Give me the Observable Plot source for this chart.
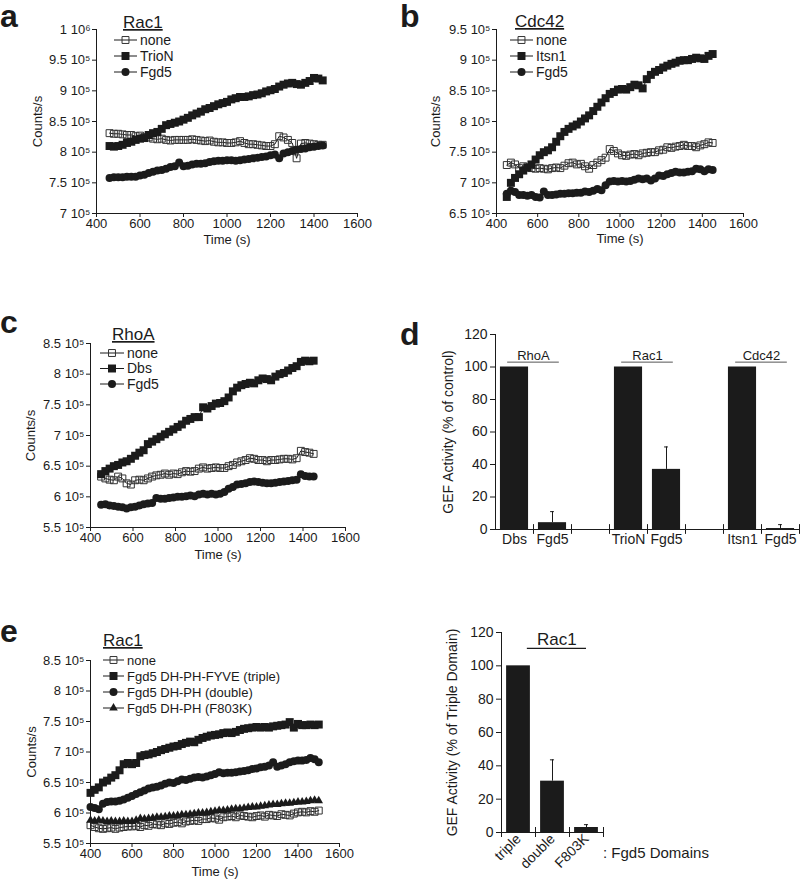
<!DOCTYPE html>
<html>
<head>
<meta charset="utf-8">
<script src="https://cdn.jsdelivr.net/npm/d3@7"></script>
<script src="https://cdn.jsdelivr.net/npm/@observablehq/plot@0.6"></script>
<style>
  body { margin: 0; background: #fff; }
  #fig { position: relative; width: 800px; height: 879px; overflow: hidden; background: #fff; }
  .cell { position: absolute; }
</style>
</head>
<body>
<div id="fig"></div>
<script>
// ---------------- DATA (counts in units of 10^5) ----------------
const timeA = [460,480,500,520,540,560,580,600,620,640,660,680,700,720,740,760,780,800,820,840,860,880,900,920,940,960,980,1000,1020,1040,1060,1080,1100,1120,1140,1160,1180,1200,1220,1240,1260,1280,1300,1320,1340,1360,1380,1400,1420,1440];
const aNone  = [8.31,8.3,8.3,8.29,8.28,8.28,8.26,8.27,8.25,8.24,8.22,8.21,8.22,8.2,8.19,8.2,8.2,8.2,8.2,8.21,8.2,8.19,8.18,8.19,8.17,8.16,8.16,8.15,8.15,8.16,8.18,8.15,8.13,8.13,8.12,8.11,8.1,8.1,8.13,8.26,8.24,8.2,8.15,7.9,8.14,8.15,8.14,8.13,8.12,8.12];
const aTrioN = [8.1,8.09,8.1,8.12,8.15,8.17,8.2,8.22,8.23,8.28,8.31,8.33,8.38,8.44,8.46,8.48,8.5,8.53,8.56,8.6,8.63,8.66,8.7,8.72,8.75,8.78,8.8,8.82,8.86,8.88,8.9,8.9,8.91,8.93,8.94,8.96,8.99,9.01,9.03,9.07,9.1,9.12,9.13,9.11,9.1,9.13,9.16,9.21,9.2,9.17];
const aFgd5  = [7.58,7.59,7.59,7.59,7.6,7.6,7.6,7.62,7.63,7.66,7.68,7.7,7.71,7.73,7.76,7.77,7.83,7.77,7.78,7.8,7.81,7.81,7.82,7.84,7.85,7.86,7.86,7.87,7.87,7.86,7.87,7.88,7.89,7.9,7.91,7.92,7.93,7.95,7.96,7.9,7.98,8.0,8.02,8.04,8.05,8.06,8.08,8.09,8.1,8.11];

const timeBC = [450,470,490,510,530,550,570,590,610,630,650,670,690,710,730,750,770,790,810,830,850,870,890,910,930,950,970,990,1010,1030,1050,1070,1090,1110,1130,1150,1170,1190,1210,1230,1250,1270,1290,1310,1330,1350,1370,1390,1410,1430,1450];
const bNone  = [7.29,7.33,7.3,7.24,7.27,7.25,7.24,7.23,7.24,7.23,7.22,7.24,7.25,7.24,7.28,7.32,7.33,7.3,7.31,7.27,7.23,7.29,7.33,7.37,7.41,7.55,7.52,7.48,7.45,7.44,7.46,7.47,7.45,7.48,7.49,7.5,7.5,7.53,7.54,7.58,7.57,7.59,7.6,7.62,7.6,7.6,7.58,7.61,7.63,7.66,7.65];
const bItsn1 = [6.77,7.0,7.08,7.14,7.2,7.25,7.3,7.38,7.45,7.5,7.53,7.58,7.67,7.76,7.83,7.88,7.92,7.95,8.0,8.05,8.1,8.17,8.24,8.31,8.38,8.45,8.48,8.52,8.53,8.52,8.56,8.6,8.59,8.54,8.69,8.76,8.81,8.84,8.88,8.91,8.94,8.96,8.99,9.0,9.0,9.02,9.04,9.03,9.02,9.07,9.1];
const bFgd5  = [6.82,6.87,6.85,6.8,6.8,6.79,6.8,6.77,6.76,6.86,6.8,6.8,6.81,6.82,6.82,6.83,6.83,6.84,6.84,6.86,6.85,6.87,6.9,6.88,6.96,7.02,7.03,7.02,7.03,7.02,7.03,7.05,7.07,7.06,7.07,7.04,7.07,7.12,7.11,7.14,7.16,7.18,7.17,7.17,7.18,7.19,7.23,7.22,7.19,7.22,7.21];

const cNone = [6.33,6.3,6.28,6.27,6.33,6.3,6.22,6.2,6.27,6.28,6.27,6.3,6.33,6.35,6.36,6.38,6.36,6.38,6.37,6.4,6.42,6.41,6.42,6.46,6.48,6.46,6.47,6.48,6.47,6.47,6.5,6.52,6.56,6.58,6.6,6.63,6.62,6.6,6.6,6.58,6.6,6.6,6.61,6.62,6.62,6.61,6.63,6.75,6.73,6.72,6.7];
const cDbs  = [6.37,6.42,6.46,6.5,6.52,6.56,6.58,6.62,6.67,6.72,6.76,6.86,6.9,6.94,6.98,7.02,7.06,7.1,7.14,7.18,7.24,7.27,7.3,7.3,7.46,7.44,7.48,7.52,7.53,7.56,7.62,7.72,7.78,7.82,7.84,7.86,7.85,7.9,7.93,7.92,7.9,7.96,8.0,8.02,8.06,8.1,8.13,8.2,8.22,8.21,8.22];
const cFgd5 = [5.87,5.88,5.86,5.85,5.84,5.83,5.81,5.83,5.84,5.86,5.88,5.89,5.9,5.98,5.97,5.97,5.98,5.99,6.0,6.0,6.01,6.02,6.01,6.04,6.05,6.04,6.05,6.04,6.05,6.08,6.13,6.16,6.2,6.21,6.22,6.24,6.25,6.24,6.23,6.22,6.22,6.23,6.24,6.25,6.26,6.27,6.28,6.37,6.34,6.33,6.33];

const timeE = [400,420,440,460,480,500,520,540,560,580,600,620,640,660,680,700,720,740,760,780,800,820,840,860,880,900,920,940,960,980,1000,1020,1040,1060,1080,1100,1120,1140,1160,1180,1200,1220,1240,1260,1280,1300,1320,1340,1360,1380,1400,1420,1440,1460,1480,1500];
const eNone   = [5.8,5.77,5.75,5.74,5.75,5.76,5.74,5.76,5.77,5.78,5.78,5.79,5.77,5.8,5.79,5.82,5.81,5.8,5.83,5.82,5.84,5.85,5.83,5.86,5.87,5.88,5.87,5.9,5.9,5.92,5.91,5.89,5.93,5.94,5.95,5.93,5.96,5.95,5.94,5.93,5.95,5.96,5.94,5.97,5.96,5.95,5.98,5.97,5.96,5.99,6.01,6.02,6.01,6.03,6.02,6.04];
const eTriple = [6.33,6.38,6.42,6.5,6.53,6.58,6.62,6.7,6.8,6.82,6.8,6.82,6.93,6.95,6.96,6.98,7.0,7.03,7.05,7.07,7.09,7.1,7.13,7.15,7.17,7.16,7.2,7.23,7.25,7.27,7.28,7.29,7.31,7.32,7.31,7.33,7.36,7.38,7.39,7.4,7.41,7.4,7.41,7.4,7.42,7.43,7.44,7.45,7.49,7.4,7.46,7.44,7.44,7.45,7.44,7.45];
const eDouble = [6.1,6.08,6.06,6.15,6.18,6.19,6.19,6.2,6.22,6.25,6.28,6.31,6.34,6.37,6.4,6.42,6.43,6.45,6.48,6.5,6.49,6.52,6.55,6.54,6.56,6.58,6.59,6.58,6.6,6.62,6.64,6.67,6.65,6.66,6.66,6.67,6.68,6.69,6.7,6.72,6.73,6.75,6.76,6.78,6.83,6.76,6.78,6.8,6.83,6.85,6.86,6.86,6.87,6.9,6.88,6.83];
const eF803K  = [5.88,5.87,5.88,5.87,5.86,5.87,5.86,5.86,5.87,5.86,5.86,5.88,5.91,5.9,5.91,5.92,5.93,5.93,5.94,5.95,5.95,5.96,5.97,5.97,5.98,5.99,6.0,6.0,6.01,6.02,6.03,6.04,6.04,6.05,6.06,6.07,6.07,6.08,6.09,6.1,6.1,6.11,6.12,6.13,6.14,6.14,6.15,6.16,6.16,6.17,6.18,6.18,6.19,6.2,6.21,6.2];

const timeTicks = [400,600,800,1000,1200,1400,1600];
const yTicksA = [7,7.5,8,8.5,9,9.5,10];
const yTicksB = [6.5,7,7.5,8,8.5,9,9.5];
const yTicksCE = [5.5,6,6.5,7,7.5,8,8.5];

// panel d
const dLabels = ["Dbs","Fgd5","","TrioN","Fgd5","","Itsn1","Fgd5"];
const dValues = [100,4.2,null,100,37,null,100,0.6];
const dErrors = [0,6.8,null,0,13.8,null,0,2.4];
const dGroups = ["RhoA","Rac1","Cdc42"];
const pctTicks = [0,20,40,60,80,100,120];

// panel e (bars)
const eBarLabels = ["triple","double","F803K"];
const eBarValues = [100,30.8,3.0];
const eBarErrors = [0,12.8,1.7];

// ---------------- RENDERING ----------------
const FONT = '"Liberation Sans", Arial, Helvetica, sans-serif';
const INK = "#1b1b1b";
const fig = document.getElementById("fig");

function place(node, left, top) {
  const div = document.createElement("div");
  div.className = "cell";
  div.style.left = left + "px";
  div.style.top = top + "px";
  div.appendChild(node);
  fig.appendChild(div);
}

const sci = v => v >= 10 ? `${v / 10} 10⁶` : `${v} 10⁵`;
const plain = v => `${v}`;

const SYM = {
  open:   {symbol: "square",   r: 3.9, fill: "none", stroke: "#333"},
  square: {symbol: "square",   r: 4.5, fill: INK,    stroke: "none"},
  circle: {symbol: "circle",   r: 4.0, fill: INK,    stroke: "none"},
  tri:    {symbol: "triangle", r: 3.2, fill: INK,    stroke: "none"}
};

function linePanel(o) {
  const marks = [
    Plot.ruleX([o.xDomain[0]], {stroke: INK}),
    Plot.ruleY([o.yDomain[0]], {stroke: INK})
  ];
  for (const s of o.series) {
    const data = s.time.map((t, i) => ({t, v: s.values[i]}));
    const st = SYM[s.sym];
    marks.push(Plot.line(data, {x: "t", y: "v", stroke: INK, strokeWidth: 1}));
    marks.push(Plot.dot(data, {x: "t", y: "v", symbol: st.symbol, r: st.r, fill: st.fill, stroke: st.stroke, strokeWidth: 1}));
  }
  return Plot.plot({
    width: o.width, height: o.height,
    marginLeft: o.ml, marginRight: o.mr, marginTop: o.mt, marginBottom: o.mb,
    style: {fontFamily: FONT, fontSize: "13px", color: INK, background: "transparent", overflow: "visible"},
    x: {domain: o.xDomain, ticks: timeTicks, tickFormat: plain, tickSize: 4, tickPadding: 1,
        label: "Time (s)", labelAnchor: "center", labelOffset: o.xlo, labelArrow: "none"},
    y: {domain: o.yDomain, ticks: o.yTicks, tickFormat: sci, tickSize: 4, tickPadding: 2,
        label: "Counts/s", labelAnchor: "center", labelOffset: o.ylo, labelArrow: "none"},
    marks
  });
}

place(linePanel({width: 370, height: 250, ml: 96, mr: 13, mt: 29, mb: 37, xlo: 30, ylo: 64,
  xDomain: [400, 1600], yDomain: [7, 10], yTicks: yTicksA,
  series: [
    {time: timeA, values: aNone, sym: "open"},
    {time: timeA, values: aTrioN, sym: "square"},
    {time: timeA, values: aFgd5, sym: "circle"}
  ]}), 0, 0);

place(linePanel({width: 360, height: 250, ml: 96, mr: 17, mt: 29, mb: 37, xlo: 29, ylo: 66,
  xDomain: [400, 1600], yDomain: [6.5, 9.5], yTicks: yTicksB,
  series: [
    {time: timeBC, values: bNone, sym: "open"},
    {time: timeBC, values: bItsn1, sym: "square"},
    {time: timeBC, values: bFgd5, sym: "circle"}
  ]}), 400, 0);

place(linePanel({width: 360, height: 270, ml: 90, mr: 15, mt: 43, mb: 43, xlo: 31, ylo: 65,
  xDomain: [400, 1600], yDomain: [5.5, 8.5], yTicks: yTicksCE,
  series: [
    {time: timeBC, values: cNone, sym: "open"},
    {time: timeBC, values: cDbs, sym: "square"},
    {time: timeBC, values: cFgd5, sym: "circle"}
  ]}), 0, 300);

place(linePanel({width: 360, height: 299, ml: 90, mr: 21, mt: 80, mb: 36, xlo: 32, ylo: 64,
  xDomain: [400, 1600], yDomain: [5.5, 8.5], yTicks: yTicksCE,
  series: [
    {time: timeE, values: eNone, sym: "open"},
    {time: timeE, values: eF803K, sym: "tri"},
    {time: timeE, values: eDouble, sym: "circle"},
    {time: timeE, values: eTriple, sym: "square"}
  ]}), 0, 580);

// ---- panel d bars ----
const dData = dLabels.map((label, i) => ({i, label, v: dValues[i], e: dErrors[i]})).filter(d => d.v != null);
const dErr = dData.filter(d => d.e > 0);
const dBounds = dLabels.map((_, i) => i + 1);
const dGroupData = dGroups.map((name, k) => ({name, c: 3 * k + 1}));
place(Plot.plot({
  width: 400, height: 260, marginLeft: 95, marginRight: 1, marginTop: 34, marginBottom: 31,
  style: {fontFamily: FONT, fontSize: "14px", color: INK, background: "transparent", overflow: "visible"},
  x: {domain: [0, dLabels.length], ticks: dLabels.map((_, i) => i + 0.5), tickFormat: d => dLabels[Math.floor(d)],
      tickSize: 0, tickPadding: 5, label: null},
  y: {domain: [0, 120], ticks: pctTicks, tickFormat: plain, tickSize: 5, tickPadding: 3,
      label: "GEF Activity (% of control)", labelAnchor: "center", labelOffset: 52, labelArrow: "none"},
  marks: [
    Plot.rect(dData, {x1: d => d.i + 0.13, x2: d => d.i + 0.87, y1: 0, y2: "v", fill: INK}),
    Plot.ruleX(dErr, {x: d => d.i + 0.5, y1: "v", y2: d => d.v + d.e, stroke: INK}),
    Plot.ruleY(dErr, {y: d => d.v + d.e, x1: d => d.i + 0.45, x2: d => d.i + 0.55, stroke: INK}),
    Plot.ruleY([0], {stroke: INK}),
    Plot.ruleX([0], {stroke: INK}),
    Plot.ruleX(dBounds, {y1: -3, y2: 3, stroke: INK}),
    Plot.ruleY(dGroupData, {y: 103, x1: d => d.c - 0.68, x2: d => d.c + 0.68, stroke: "#555"}),
    Plot.text(dGroupData, {x: "c", y: 103, text: "name", dy: -2, lineAnchor: "bottom", fontSize: 13, fill: INK})
  ]
}), 400, 300);

// ---- panel e bars ----
const ebData = eBarLabels.map((label, i) => ({i, label, v: eBarValues[i], e: eBarErrors[i]}));
const ebErr = ebData.filter(d => d.e > 0);
place(Plot.plot({
  width: 200, height: 299, marginLeft: 81, marginRight: 17, marginTop: 52, marginBottom: 47,
  style: {fontFamily: FONT, fontSize: "14px", color: INK, background: "transparent", overflow: "visible"},
  x: {domain: [0, eBarLabels.length], ticks: eBarLabels.map((_, i) => i + 0.5), tickFormat: d => eBarLabels[Math.floor(d)],
      tickSize: 0, tickPadding: 4, tickRotate: -45, label: null},
  y: {domain: [0, 120], ticks: pctTicks, tickFormat: plain, tickSize: 5, tickPadding: 3,
      label: "GEF Activity (% of Triple Domain)", labelAnchor: "center", labelOffset: 54, labelArrow: "none"},
  marks: [
    Plot.rect(ebData, {x1: d => d.i + 0.15, x2: d => d.i + 0.85, y1: 0, y2: "v", fill: INK}),
    Plot.ruleX(ebErr, {x: d => d.i + 0.5, y1: "v", y2: d => d.v + d.e, stroke: INK}),
    Plot.ruleY(ebErr, {y: d => d.v + d.e, x1: d => d.i + 0.44, x2: d => d.i + 0.56, stroke: INK}),
    Plot.ruleY([0], {stroke: INK}),
    Plot.ruleX([0], {stroke: INK}),
    Plot.ruleX(d3.range(0, eBarLabels.length + 1), {y1: -3, y2: 3, stroke: INK}),
    Plot.ruleY(["Rac1"], {y: 110.5, x1: 0.76, x2: 2.5, stroke: INK, strokeWidth: 1.3}),
    Plot.text(["Rac1"], {x: 1.63, y: 110.5, text: d => d, dy: -3, lineAnchor: "bottom", fontSize: 17, fill: INK})
  ]
}), 420, 580);

// ---- overlay: panel letters, legends, caption ----
const svg = d3.select(fig).append("svg")
  .attr("width", 800).attr("height", 879)
  .style("position", "absolute").style("left", 0).style("top", 0)
  .style("pointer-events", "none")
  .attr("font-family", FONT).attr("fill", INK);

[["a", 0, 27], ["b", 400, 27], ["c", 0, 333], ["d", 400, 345], ["e", 0, 642]].forEach(([t, x, y]) =>
  svg.append("text").attr("x", x).attr("y", y).attr("font-size", 32).attr("font-weight", "bold").text(t));

const symType = {square: d3.symbolSquare, circle: d3.symbolCircle, triangle: d3.symbolTriangle};
function legend(o) {
  const g = svg.append("g");
  g.append("text").attr("x", o.tx).attr("y", o.ty).attr("font-size", 17)
    .attr("text-decoration", "underline").text(o.title);
  o.items.forEach((it, k) => {
    const cy = o.y0 + k * o.dy;
    const st = SYM[it.sym];
    g.append("line").attr("x1", o.x0).attr("x2", o.x1).attr("y1", cy).attr("y2", cy)
      .attr("stroke", INK).attr("stroke-width", 1);
    g.append("path").attr("transform", `translate(${(o.x0 + o.x1) / 2},${cy})`)
      .attr("d", d3.symbol(symType[st.symbol], Math.PI * st.r * st.r)())
      .attr("fill", st.fill).attr("stroke", st.stroke === "none" ? null : st.stroke);
    g.append("text").attr("x", o.x1 + 3).attr("y", cy).attr("dy", "0.35em")
      .attr("font-size", o.fs).text(it.label);
  });
}
legend({title: "Rac1", tx: 123, ty: 28, x0: 114, x1: 137, y0: 40, dy: 16, fs: 14,
  items: [{label: "none", sym: "open"}, {label: "TrioN", sym: "square"}, {label: "Fgd5", sym: "circle"}]});
legend({title: "Cdc42", tx: 515, ty: 27, x0: 510, x1: 533, y0: 40, dy: 16, fs: 14,
  items: [{label: "none", sym: "open"}, {label: "Itsn1", sym: "square"}, {label: "Fgd5", sym: "circle"}]});
legend({title: "RhoA", tx: 112, ty: 340, x0: 100, x1: 124, y0: 353, dy: 15.5, fs: 14,
  items: [{label: "none", sym: "open"}, {label: "Dbs", sym: "square"}, {label: "Fgd5", sym: "circle"}]});
legend({title: "Rac1", tx: 103, ty: 646, x0: 103, x1: 124, y0: 660, dy: 16, fs: 13,
  items: [{label: "none", sym: "open"}, {label: "Fgd5 DH-PH-FYVE (triple)", sym: "square"},
          {label: "Fgd5 DH-PH (double)", sym: "circle"}, {label: "Fgd5 DH-PH (F803K)", sym: "tri"}]});

svg.append("text").attr("x", 603).attr("y", 858).attr("font-size", 15).text(": Fgd5 Domains");
</script>
</body>
</html>
